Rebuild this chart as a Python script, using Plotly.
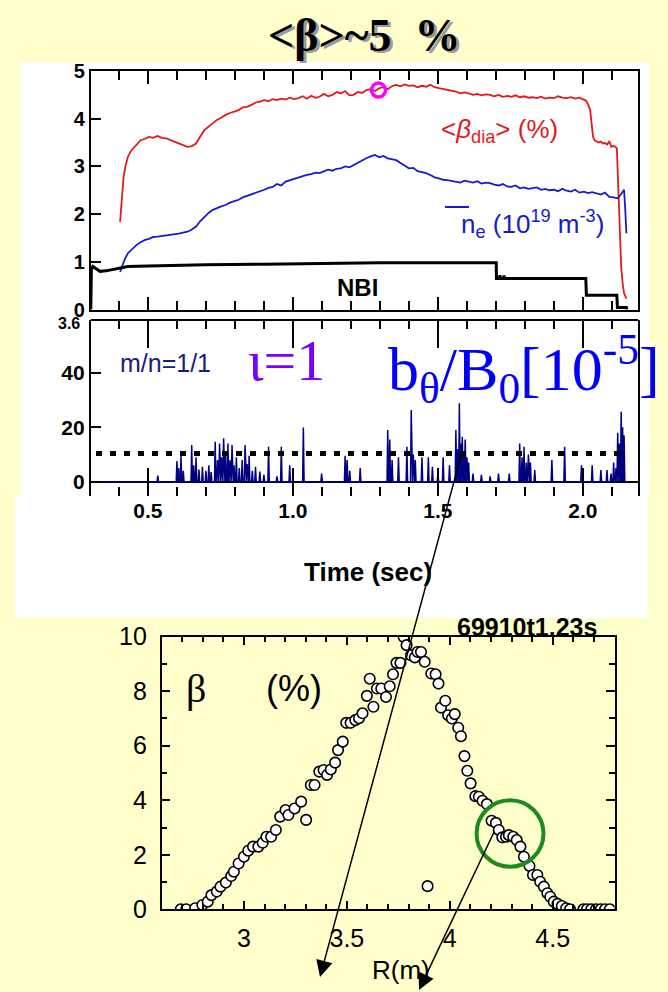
import plotly.graph_objects as go

W, H = 668, 992
BG = "#FFFFCC"
SANS = "Liberation Sans, Arial, sans-serif"
SERIF = "Liberation Serif, Times New Roman, serif"

# ---------------- data: top panel ----------------
beta_t = [0.404,0.410,0.416,0.423,0.431,0.442,0.453,0.465,0.475,0.490,0.504,0.518,0.533,0.548,0.563,0.578,0.592,0.606,0.621,0.636,
          0.650,0.666,0.680,0.695,0.710,0.724,0.739,0.753,0.768,0.783,0.798,0.813,0.827,0.842,0.857,0.872,0.886,0.901,0.916,0.930,
          0.945,0.960,0.975,0.989,1.004,1.019,1.034,1.048,1.063,1.078,1.092,1.107,1.122,1.136,1.151,1.165,1.180,1.195,1.209,1.224,
          1.239,1.253,1.268,1.283,1.298,1.312,1.327,1.341,1.356,1.371,1.385,1.400,1.415,1.430,1.445,1.459,1.474,1.489,1.503,1.518,
          1.533,1.548,1.562,1.577,1.592,1.606,1.621,1.636,1.650,1.665,1.680,1.694,1.709,1.724,1.739,1.753,1.768,1.783,1.797,1.812,
          1.826,1.841,1.856,1.870,1.885,1.900,1.914,1.929,1.944,1.959,1.973,1.988,2.003,2.010,2.018,2.025,2.030,2.035,2.041,2.047,
          2.055,2.062,2.069,2.076,2.084,2.091,2.098,2.106,2.113,2.117,2.120,2.123,2.128,2.132,2.137,2.142,2.150]
beta_v = [1.84,2.40,2.78,3.02,3.20,3.33,3.41,3.50,3.55,3.58,3.62,3.60,3.64,3.60,3.59,3.55,3.52,3.49,3.45,3.41,
          3.42,3.48,3.62,3.76,3.84,3.90,3.98,4.02,4.08,4.12,4.15,4.18,4.24,4.25,4.29,4.34,4.36,4.39,4.37,4.41,
          4.39,4.42,4.40,4.44,4.41,4.43,4.47,4.42,4.48,4.44,4.46,4.52,4.47,4.50,4.56,4.53,4.58,4.49,4.50,4.56,
          4.54,4.60,4.62,4.58,4.64,4.66,4.62,4.68,4.71,4.68,4.72,4.69,4.70,4.66,4.69,4.67,4.71,4.66,4.64,4.62,
          4.60,4.58,4.57,4.53,4.55,4.53,4.50,4.52,4.49,4.51,4.50,4.47,4.50,4.46,4.48,4.46,4.49,4.45,4.47,4.44,
          4.45,4.43,4.46,4.42,4.44,4.43,4.47,4.44,4.43,4.45,4.42,4.44,4.40,4.38,4.30,4.18,3.90,3.62,3.54,3.52,
          3.50,3.52,3.48,3.49,3.46,3.53,3.41,3.43,3.40,3.38,2.90,2.30,1.50,0.90,0.55,0.34,0.23]

ne_t = [0.404,0.412,0.420,0.431,0.445,0.460,0.475,0.490,0.504,0.518,0.533,0.548,0.563,0.577,0.592,0.606,0.621,0.636,0.650,0.666,
        0.680,0.695,0.710,0.724,0.739,0.753,0.768,0.783,0.798,0.813,0.827,0.842,0.857,0.871,0.886,0.901,0.916,0.930,0.945,0.960,
        0.975,0.989,1.004,1.019,1.034,1.048,1.063,1.078,1.092,1.106,1.121,1.136,1.150,1.165,1.180,1.195,1.209,1.224,1.239,1.253,
        1.268,1.283,1.298,1.312,1.327,1.341,1.356,1.371,1.385,1.400,1.415,1.430,1.445,1.459,1.474,1.489,1.503,1.518,1.533,1.548,
        1.562,1.577,1.592,1.606,1.621,1.636,1.650,1.665,1.680,1.694,1.709,1.724,1.739,1.753,1.768,1.783,1.797,1.812,1.826,1.841,
        1.856,1.870,1.885,1.900,1.914,1.929,1.944,1.959,1.973,1.988,2.003,2.018,2.032,2.047,2.062,2.076,2.091,2.106,2.120,2.132,
        2.142,2.146,2.150]
ne_v = [0.79,0.92,1.05,1.18,1.27,1.35,1.41,1.46,1.48,1.52,1.53,1.54,1.55,1.56,1.58,1.59,1.61,1.63,1.67,1.74,
        1.85,1.95,2.03,2.09,2.13,2.16,2.19,2.24,2.27,2.30,2.35,2.38,2.41,2.44,2.48,2.51,2.55,2.57,2.63,2.60,
        2.68,2.71,2.73,2.76,2.79,2.82,2.84,2.87,2.86,2.89,2.93,2.91,2.95,2.96,3.00,2.98,3.03,3.08,3.12,3.17,
        3.21,3.24,3.19,3.22,3.17,3.15,3.13,3.07,3.02,2.96,2.97,2.90,2.88,2.86,2.82,2.77,2.75,2.72,2.71,2.69,
        2.68,2.66,2.70,2.68,2.66,2.69,2.64,2.66,2.65,2.62,2.60,2.63,2.58,2.57,2.60,2.54,2.56,2.53,2.54,2.56,
        2.51,2.53,2.50,2.51,2.48,2.53,2.49,2.47,2.51,2.45,2.47,2.44,2.46,2.44,2.41,2.45,2.36,2.35,2.33,2.42,
        2.51,2.10,1.60]

nbi_t = [0.303,0.305,0.310,0.322,0.335,0.355,0.373,0.400,0.431,0.500,0.577,0.700,0.900,1.100,1.300,1.500,1.701,
         1.702,1.712,1.714,1.716,1.726,1.728,1.730,2.010,2.012,2.117,2.119,2.150,2.152]
nbi_v = [0.00,0.83,0.90,0.86,0.80,0.81,0.83,0.87,0.90,0.91,0.92,0.94,0.95,0.97,0.98,0.98,0.98,
         0.65,0.65,0.72,0.65,0.65,0.71,0.65,0.65,0.30,0.30,0.04,0.04,0.00]

peak_t = [1.295]
peak_v = [4.60]

# ---------------- data: middle panel (b_theta/B0 bursts) ----------------
spike_t = [0.534,0.600,0.606,0.614,0.622,0.651,0.658,0.666,0.676,0.688,
           0.700,0.710,0.718,0.732,0.740,0.747,0.754,0.761,0.768,0.776,
           0.783,0.790,0.797,0.805,0.815,0.825,0.835,0.842,0.849,0.860,
           0.871,0.886,0.900,0.916,0.945,0.960,0.989,1.036,1.099,1.180,
           1.187,1.196,1.232,1.327,1.334,1.342,1.364,1.393,1.408,1.415,
           1.422,1.445,1.467,1.481,1.500,1.518,1.540,1.562,1.568,1.574,
           1.579,1.584,1.590,1.594,1.600,1.606,1.621,1.650,1.680,1.709,
           1.746,1.782,1.790,1.797,1.805,1.812,1.819,1.834,1.893,1.937,
           1.995,2.032,2.062,2.083,2.097,2.106,2.114,2.120,2.126,2.132,
           2.137,2.142]
spike_h = [2.2,7.6,5.0,9.4,4.0,13.5,6.0,9.0,4.5,5.5,
           4.0,6.0,3.5,14.7,8.0,14.0,9.0,16.0,10.0,14.0,
           8.0,13.5,6.0,9.0,5.0,8.0,13.5,6.5,9.5,4.0,
           5.5,3.7,2.5,12.8,2.0,12.8,6.0,19.9,3.0,9.5,
           8.0,4.0,5.0,19.0,15.5,8.0,9.0,12.8,26.4,10.0,
           8.0,9.0,9.0,5.5,3.0,9.0,6.0,19.0,12.0,28.8,
           14.0,16.5,11.0,15.5,9.0,7.0,3.0,2.5,2.0,3.0,
           3.0,14.0,9.0,12.8,7.0,10.0,7.0,4.3,8.0,12.8,
           6.0,6.0,4.3,4.3,3.0,7.0,5.0,18.0,14.0,25.7,
           20.0,17.0]
threshold = 10.4
threshold_t = [0.321, 2.127]

# ---------------- data: bottom panel (beta profile) ----------------
R_m = [2.693,2.720,2.763,2.798,2.824,2.842,2.868,2.886,2.912,2.938,2.951,2.974,3.000,3.021,3.044,3.070,3.091,3.109,3.132,3.155,
       3.176,3.202,3.216,3.246,3.278,3.302,3.325,3.343,3.366,3.387,3.404,3.422,3.443,3.457,3.480,3.497,3.518,3.541,3.559,3.576,
       3.597,3.611,3.629,3.646,3.667,3.690,3.708,3.724,3.741,3.760,3.776,3.790,3.811,3.830,3.843,3.860,3.878,3.892,3.910,3.931,
       3.945,3.957,3.978,3.992,4.010,4.024,4.041,4.054,4.071,4.085,4.101,4.124,4.141,4.159,4.180,4.203,4.224,4.238,4.255,4.273,
       4.287,4.308,4.325,4.343,4.360,4.387,4.404,4.425,4.439,4.457,4.474,4.488,4.505,4.523,4.544,4.565,4.584,4.649,4.666,4.687,
       4.710,4.733,4.754,4.777]
beta_prof = [0.00,0.00,0.04,0.16,0.28,0.52,0.65,0.83,0.98,1.22,1.38,1.68,1.93,2.15,2.30,2.30,2.44,2.66,2.66,2.91,
             3.40,3.64,3.46,3.70,3.95,3.28,4.56,4.56,5.05,5.11,4.93,5.13,5.38,5.84,6.15,6.84,6.84,6.94,7.01,7.19,
             7.83,8.46,7.43,8.10,8.10,7.79,8.18,8.62,9.04,9.04,9.99,9.69,9.32,9.24,9.44,9.44,9.08,0.85,8.65,8.62,
             8.28,7.40,7.65,7.12,7.00,7.16,6.66,6.35,5.62,5.08,4.62,4.15,4.13,3.98,3.86,3.25,3.17,2.91,2.64,2.66,
             2.72,2.66,2.54,2.30,1.93,1.59,1.26,1.26,1.01,0.83,0.59,0.46,0.28,0.20,0.12,0.04,0.00,0.00,0.00,0.00,
             0.00,0.00,0.00,0.00]

x_ticks_time = [0.5, 1.0, 1.5, 2.0]
x_ticks_time_text = ["0.5", "1.0", "1.5", "2.0"]


def PX(x):
    return x / W


def PY(y):
    return 1 - y / H


fig = go.Figure()

# top panel
fig.add_trace(go.Scatter(x=beta_t, y=beta_v, mode="lines", line=dict(color="#E3191C", width=1.8),
                         xaxis="x", yaxis="y", showlegend=False))
fig.add_trace(go.Scatter(x=ne_t, y=ne_v, mode="lines", line=dict(color="#1A1ACC", width=1.8),
                         xaxis="x", yaxis="y", showlegend=False))
fig.add_trace(go.Scatter(x=nbi_t, y=nbi_v, mode="lines", line=dict(color="black", width=3),
                         xaxis="x", yaxis="y", showlegend=False))
fig.add_trace(go.Scatter(x=peak_t, y=peak_v, mode="markers",
                         marker=dict(symbol="circle-open", size=14, color="#FF00FF", line=dict(width=3.5, color="#FF00FF")),
                         xaxis="x", yaxis="y", showlegend=False))

# middle panel
sx, sy = [0.303], [0.0]
for t, h in zip(spike_t, spike_h):
    sx += [t - 0.0025, t, t + 0.0025]
    sy += [0.0, h, 0.0]
sx.append(2.15)
sy.append(0.0)
fig.add_trace(go.Scatter(x=sx, y=sy, mode="lines", line=dict(color="#000080", width=1.5),
                         xaxis="x2", yaxis="y2", showlegend=False))
fig.add_trace(go.Scatter(x=threshold_t, y=[threshold, threshold], mode="lines",
                         line=dict(color="black", width=5, dash="6px,8px"),
                         xaxis="x2", yaxis="y2", showlegend=False))

# bottom panel
fig.add_trace(go.Scatter(x=R_m, y=beta_prof, mode="markers",
                         marker=dict(symbol="circle", size=10.5, color="white", line=dict(color="black", width=1.6)),
                         xaxis="x3", yaxis="y3", showlegend=False))

tick_bold = dict(family=SANS, size=20, color="black", weight="bold")

fig.update_layout(
    width=W, height=H,
    margin=dict(l=0, r=0, t=0, b=0, pad=0, autoexpand=False),
    paper_bgcolor=BG,
    plot_bgcolor="rgba(0,0,0,0)",
    showlegend=False,
    xaxis=dict(domain=[PX(90.8), PX(638)], range=[0.303, 2.19], anchor="y", automargin=False,
               showline=True, linecolor="black", linewidth=2, mirror="ticks",
               ticks="inside", tick0=0, dtick=0.5, ticklen=13, tickwidth=2, tickcolor="black",
               minor=dict(dtick=0.1, ticks="inside", ticklen=9, tickwidth=2, tickcolor="black"),
               showticklabels=False, showgrid=False, zeroline=False),
    yaxis=dict(domain=[PY(309.5), PY(71)], range=[0, 5], anchor="x", automargin=False,
               showline=True, linecolor="black", linewidth=2, mirror=True,
               ticks="inside", dtick=1, ticklen=10, tickwidth=2, tickcolor="black",
               tickfont=tick_bold, showgrid=False, zeroline=False),
    xaxis2=dict(domain=[PX(90.8), PX(638)], range=[0.303, 2.19], anchor="y2", automargin=False,
                showline=False, mirror="ticks",
                ticks="inside", tickvals=x_ticks_time, ticktext=x_ticks_time_text,
                ticklen=28, tickwidth=2, tickcolor="black",
                minor=dict(dtick=0.1, ticks="inside", ticklen=9, tickwidth=2, tickcolor="black"),
                tickfont=dict(family=SANS, size=21, color="black", weight="bold"),
                showgrid=False, zeroline=False),
    yaxis2=dict(domain=[PY(496), PY(320)], range=[-5.26, 59.45], anchor="x2", automargin=False,
                showline=True, linecolor="black", linewidth=2, mirror=True,
                ticks="inside", tickvals=[0, 20, 40], ticklen=10, tickwidth=2, tickcolor="black",
                tickfont=dict(family=SANS, size=21, color="black", weight="bold"),
                showgrid=False, zeroline=True, zerolinecolor="black", zerolinewidth=2),
    xaxis3=dict(domain=[PX(161.6), PX(614.5)], range=[2.6, 4.8], anchor="y3", automargin=False,
                showline=True, linecolor="black", linewidth=1.5, mirror="ticks",
                ticks="inside", tick0=0, dtick=0.5, ticklen=9, tickwidth=1.5, tickcolor="black",
                minor=dict(dtick=0.1, ticks="inside", ticklen=6, tickwidth=1.5, tickcolor="black"),
                tickfont=dict(family=SANS, size=25, color="black"), ticklabelstandoff=6,
                showgrid=False, zeroline=False),
    yaxis3=dict(domain=[PY(909.3), PY(636.7)], range=[0, 10], anchor="x3", automargin=False,
                showline=True, linecolor="black", linewidth=1.5, mirror="ticks",
                ticks="inside", dtick=2, ticklen=9, tickwidth=1.5, tickcolor="black",
                minor=dict(dtick=1, ticks="inside", ticklen=6, tickwidth=1.5, tickcolor="black"),
                tickfont=dict(family=SANS, size=25, color="black"), ticklabelstandoff=8,
                showgrid=False, zeroline=False),
)

shapes = [
    # white backgrounds of the pasted figure
    dict(type="rect", xref="paper", yref="paper", x0=PX(20), x1=PX(650), y0=PY(497), y1=PY(62),
         fillcolor="white", line=dict(width=0), layer="below"),
    dict(type="rect", xref="paper", yref="paper", x0=PX(15), x1=PX(648), y0=PY(618), y1=PY(497),
         fillcolor="white", line=dict(width=0), layer="below"),
    # top border of middle panel
    dict(type="line", xref="x2 domain", yref="y2 domain", x0=0, x1=1, y0=1, y1=1,
         line=dict(color="black", width=2)),
    # overbar of n_e
    dict(type="line", xref="paper", yref="paper", x0=PX(445), x1=PX(469), y0=PY(207), y1=PY(207),
         line=dict(color="#1A1ACC", width=2)),
    # green highlight circle
    dict(type="circle", xref="x3", yref="y3", x0=4.13, x1=4.455, y0=1.56, y1=4.0,
         line=dict(color="#1E8B1E", width=4)),
]
fig.update_layout(shapes=shapes)

ann = []


def text(x, y, s, size, color="black", family=SANS, bold=False, xanchor="center"):
    ann.append(dict(x=PX(x), y=PY(y), xref="paper", yref="paper", text=s, showarrow=False,
                    xanchor=xanchor, yanchor="middle",
                    font=dict(family=family, size=size, color=color, weight="bold" if bold else "normal")))


# title with shadow
title = "&lt;β&gt;~5\u00a0\u00a0%"
text(367, 37, title, 46, color="#9a9a9a", family=SERIF, bold=True)
text(365, 35, title, 46, color="black", family=SERIF, bold=True)

text(499, 130, "&lt;<i>β</i><sub>dia</sub>&gt; (%)", 26, color="#E3191C")
text(532, 224, "n<sub>e</sub> (10<sup>19</sup> m<sup>-3</sup>)", 26, color="#1A1ACC")
text(358, 288, "NBI", 24, bold=True)
text(69, 323, "3.6", 16, bold=True)

text(165, 363, "m/n=1/1", 25, color="#1A1A80")
text(286, 360, "ι=1", 58, color="#7B00FF", family=SERIF)
text(524, 368, "b<sub>θ</sub>/B<sub>0</sub>[10<sup>-5</sup>]", 62, color="#0000FF", family=SERIF)

text(368, 572, "Time (sec)", 26, bold=True)

text(527, 627, "69910t1.23s", 25, bold=True)
text(196, 688, "β", 40, family=SERIF)
text(294, 688, "(%)", 36)
text(401, 970, "R(m)", 26)

# arrows
ann.append(dict(x=PX(320), y=PY(977), xref="paper", yref="paper", ax=142, ay=-525, axref="pixel", ayref="pixel",
                text="", showarrow=True, arrowhead=2, arrowsize=2.2, arrowwidth=1.5, arrowcolor="black"))
ann.append(dict(x=PX(419), y=PY(990), xref="paper", yref="paper", ax=76, ay=-160, axref="pixel", ayref="pixel",
                text="", showarrow=True, arrowhead=2, arrowsize=2.2, arrowwidth=1.5, arrowcolor="black"))

fig.update_layout(annotations=ann)

fig.write_html("out.html")
